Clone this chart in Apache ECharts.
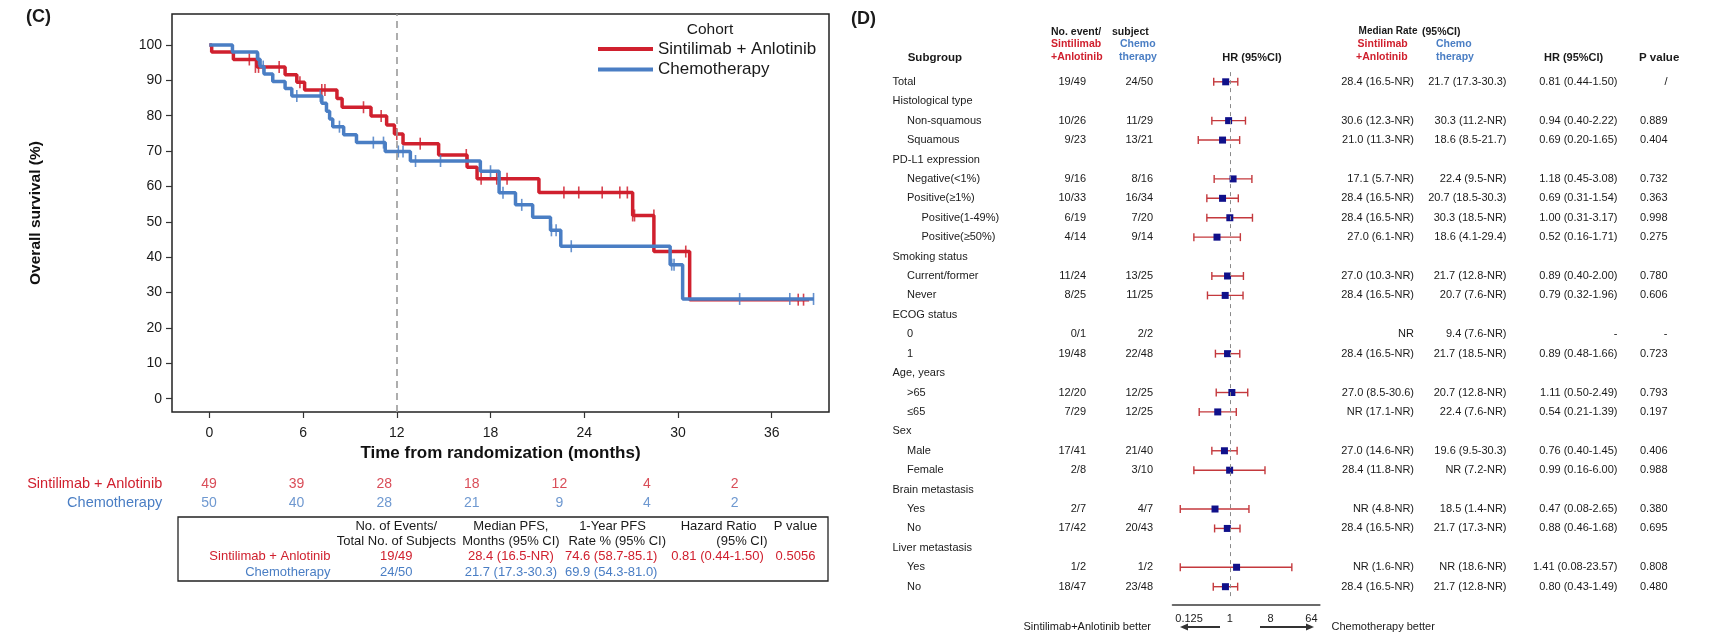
<!DOCTYPE html>
<html><head><meta charset="utf-8">
<script src="https://cdn.jsdelivr.net/npm/echarts@6/dist/echarts.min.js"></script>
<style>html,body{margin:0;padding:0;background:#fff}#c{width:1710px;height:643px}</style>
</head><body><div id="c"></div>
<script>
// ---------------- DATA ----------------
const kmTicks = [0, 6, 12, 18, 24, 30, 36];
const survTicks = [0, 10, 20, 30, 40, 50, 60, 70, 80, 90, 100];
const armSA = 'Sintilimab + Anlotinib';
const armCh = 'Chemotherapy';
// Kaplan-Meier steps [month, survival %]
const stepsSA = [[0,100],[0.15,98.0],[1.54,95.9],[3.05,93.8],[4.85,91.6],[5.6,89.5],[6.1,87.3],[8.17,84.9],[8.5,82.4],[10.35,79.9],[11.35,77.4],[11.85,74.8],[12.4,72.1],[14.68,68.9],[16.5,65.4],[17.14,62.2],[21.1,58.3],[27.1,51.8],[28.46,41.6],[30.75,28.0],[38.4,28.0]];
const censSA = [[2.56,95.9],[2.95,93.8],[3.15,93.8],[4.47,93.8],[5.8,89.5],[7.2,87.3],[7.4,87.3],[9.87,82.4],[11.0,79.9],[12.0,74.8],[13.5,72.1],[16.45,68.9],[17.4,62.2],[18.4,62.2],[19.06,62.2],[22.7,58.3],[23.65,58.3],[25.15,58.3],[26.28,58.3],[26.76,58.3],[27.1,51.8],[27.22,51.8],[28.46,51.8],[30.5,41.6],[37.7,28.0],[38.04,28.0]];
const stepsCh = [[0,100],[1.48,98.0],[3.08,96.0],[3.25,93.9],[3.5,91.8],[4.06,89.7],[4.85,87.7],[5.28,85.6],[7.2,83.5],[7.5,81.3],[7.7,79.1],[7.9,76.9],[8.6,74.6],[9.42,72.4],[11.26,69.9],[12.87,67.2],[17.35,64.3],[18.55,58.2],[19.6,54.8],[20.7,51.3],[21.84,47.6],[22.5,43.1],[29.5,37.9],[30.3,28.2],[38.7,28.2]];
const censCh = [[3.15,96.0],[3.45,93.9],[5.6,85.6],[7.1,85.6],[8.33,76.9],[10.5,72.4],[11.15,72.4],[12.1,69.9],[12.4,69.9],[13.2,67.2],[14.8,67.2],[18.0,64.3],[18.8,58.2],[20.0,54.8],[21.9,47.6],[22.2,47.6],[23.17,43.1],[29.6,37.9],[29.75,37.9],[33.95,28.2],[37.16,28.2],[38.68,28.2]];
// number at risk
const riskTimes = ['0','6','12','18','24','30','36'];
const riskSA = [49, 39, 28, 18, 12, 4, 2];
const riskCh = [50, 40, 28, 21, 9, 4, 2];
// summary table
const tabHead1 = ['No. of Events/', 'Median PFS,', '1-Year PFS', 'Hazard Ratio', 'P value'];
const tabHead2 = ['Total No. of Subjects', 'Months (95% CI)', 'Rate % (95% CI)', '(95% CI)', ''];
const tabSA = ['19/49', '28.4 (16.5-NR)', '74.6 (58.7-85.1)', '0.81 (0.44-1.50)', '0.5056'];
const tabCh = ['24/50', '21.7 (17.3-30.3)', '69.9 (54.3-81.0)', '', ''];
// forest plot
const subgroups = ['Total','Histological type','Non-squamous','Squamous','PD-L1 expression','Negative(<1%)','Positive(≥1%)','Positive(1-49%)','Positive(≥50%)','Smoking status','Current/former','Never','ECOG status','0','1','Age, years','>65','≤65','Sex','Male','Female','Brain metastasis','Yes','No','Liver metastasis','Yes','No'];
const levels = [0,0,1,1,0,1,1,2,2,0,1,1,0,1,1,0,1,1,0,1,1,0,1,1,0,1,1];
const eventsSA = ['19/49','','10/26','9/23','','9/16','10/33','6/19','4/14','','11/24','8/25','','0/1','19/48','','12/20','7/29','','17/41','2/8','','2/7','17/42','','1/2','18/47'];
const eventsCh = ['24/50','','11/29','13/21','','8/16','16/34','7/20','9/14','','13/25','11/25','','2/2','22/48','','12/25','12/25','','21/40','3/10','','4/7','20/43','','1/2','23/48'];
const medianSA = ['28.4 (16.5-NR)','','30.6 (12.3-NR)','21.0 (11.3-NR)','','17.1 (5.7-NR)','28.4 (16.5-NR)','28.4 (16.5-NR)','27.0 (6.1-NR)','','27.0 (10.3-NR)','28.4 (16.5-NR)','','NR','28.4 (16.5-NR)','','27.0 (8.5-30.6)','NR (17.1-NR)','','27.0 (14.6-NR)','28.4 (11.8-NR)','','NR (4.8-NR)','28.4 (16.5-NR)','','NR (1.6-NR)','28.4 (16.5-NR)'];
const medianCh = ['21.7 (17.3-30.3)','','30.3 (11.2-NR)','18.6 (8.5-21.7)','','22.4 (9.5-NR)','20.7 (18.5-30.3)','30.3 (18.5-NR)','18.6 (4.1-29.4)','','21.7 (12.8-NR)','20.7 (7.6-NR)','','9.4 (7.6-NR)','21.7 (18.5-NR)','','20.7 (12.8-NR)','22.4 (7.6-NR)','','19.6 (9.5-30.3)','NR (7.2-NR)','','18.5 (1.4-NR)','21.7 (17.3-NR)','','NR (18.6-NR)','21.7 (12.8-NR)'];
const hr = [0.81,null,0.94,0.69,null,1.18,0.69,1.00,0.52,null,0.89,0.79,null,null,0.89,null,1.11,0.54,null,0.76,0.99,null,0.47,0.88,null,1.41,0.80];
const hrLo = [0.44,null,0.40,0.20,null,0.45,0.31,0.31,0.16,null,0.40,0.32,null,null,0.48,null,0.50,0.21,null,0.40,0.16,null,0.08,0.46,null,0.08,0.43];
const hrHi = [1.50,null,2.22,1.65,null,3.08,1.54,3.17,1.71,null,2.00,1.96,null,null,1.66,null,2.49,1.39,null,1.45,6.00,null,2.65,1.68,null,23.57,1.49];
const hrText = ['0.81 (0.44-1.50)','','0.94 (0.40-2.22)','0.69 (0.20-1.65)','','1.18 (0.45-3.08)','0.69 (0.31-1.54)','1.00 (0.31-3.17)','0.52 (0.16-1.71)','','0.89 (0.40-2.00)','0.79 (0.32-1.96)','','-','0.89 (0.48-1.66)','','1.11 (0.50-2.49)','0.54 (0.21-1.39)','','0.76 (0.40-1.45)','0.99 (0.16-6.00)','','0.47 (0.08-2.65)','0.88 (0.46-1.68)','','1.41 (0.08-23.57)','0.80 (0.43-1.49)'];
const pvals = ['/','','0.889','0.404','','0.732','0.363','0.998','0.275','','0.780','0.606','','-','0.723','','0.793','0.197','','0.406','0.988','','0.380','0.695','','0.808','0.480'];
const forestTicks = [0.125, 1, 8, 64];

// ---------------- STYLE ----------------
const RED = '#d0202e', BLUE = '#4a7ec4', NAVY = '#10108a', CI = '#c4393d';
const FONT = 'Arial, "Liberation Sans", sans-serif';

const chart = echarts.init(document.getElementById('c'));

function forestItem(params, api) {
  const i = params.dataIndex;
  const y = api.coord([1, i])[1];
  const ch = [];
  const txt = (s, x, align, color) => { if (s) ch.push({type:'text', x: x, y: y, style:{text:s, fill: color || '#1a1a1a', font:'11px ' + FONT, align: align, verticalAlign:'middle'}}); };
  txt(subgroups[i], 892.5 + levels[i] * 14.5, 'left');
  txt(eventsSA[i], 1086, 'right');
  txt(eventsCh[i], 1153, 'right');
  txt(medianSA[i], 1414, 'right');
  txt(medianCh[i], 1506.5, 'right');
  txt(hrText[i], 1617.5, 'right');
  txt(pvals[i], 1667.5, 'right');
  if (hr[i] != null) {
    const a = api.coord([hrLo[i], i])[0], b = api.coord([hrHi[i], i])[0], c = api.coord([hr[i], i])[0];
    const st = {stroke: CI, lineWidth: 1.4};
    ch.push({type:'line', shape:{x1:a, y1:y, x2:b, y2:y}, style: st});
    ch.push({type:'line', shape:{x1:a, y1:y-4, x2:a, y2:y+4}, style: st});
    ch.push({type:'line', shape:{x1:b, y1:y-4, x2:b, y2:y+4}, style: st});
    ch.push({type:'rect', shape:{x:c-3.5, y:y-3.5, width:7, height:7}, style:{fill: NAVY}});
  }
  return {type:'group', children: ch};
}

// graphic texts
const G = [];
function gt(s, x, y, opt) {
  opt = opt || {};
  G.push({type:'text', x:x, y:y, silent:true,
    style:{text:s, fill: opt.color || '#1a1a1a', font: (opt.bold ? 'bold ' : '') + (opt.size || 11) + 'px ' + FONT,
      align: opt.align || 'left', verticalAlign:'middle'}});
}
gt('(C)', 26, 17, {bold:true, size:18});
gt('(D)', 851, 19, {bold:true, size:18});
gt('Cohort', 710, 30, {size:15.5, align:'center'});
// forest headers
const HB = {bold:true, size:10.5};
const hb = (o) => Object.assign({}, HB, o);
gt('No. event/', 1051, 31.7, HB); gt('subject', 1112, 31.7, HB);
gt('Sintilimab', 1051, 44.5, hb({color:RED})); gt('+Anlotinib', 1051, 57.5, hb({color:RED}));
gt('Chemo', 1120, 44.5, hb({color:BLUE})); gt('therapy', 1119, 57.5, hb({color:BLUE}));
gt('Subgroup', 907.7, 58.3, hb({size:11.5}));
gt('HR (95%CI)', 1252, 58.3, hb({align:'center', size:11}));
gt('Median Rate', 1358.6, 31.7, hb({size:10})); gt('(95%CI)', 1422, 31.7, HB);
gt('Sintilimab', 1357.6, 44.5, hb({color:RED})); gt('+Anlotinib', 1356, 57.5, hb({color:RED}));
gt('Chemo', 1436, 44.5, hb({color:BLUE})); gt('therapy', 1436, 57.5, hb({color:BLUE}));
gt('HR (95%CI)', 1544, 58.3, hb({size:11}));
gt('P value', 1639, 58.3, hb({size:11.5}));
gt('Sintilimab+Anlotinib better', 1151, 627, {align:'right'});
gt('Chemotherapy better', 1331.5, 627, {});
// arrows
G.push({type:'line', silent:true, shape:{x1:1220, y1:627, x2:1186, y2:627}, style:{stroke:'#333', lineWidth:2}});
G.push({type:'polygon', silent:true, shape:{points:[[1180,627],[1188,623.5],[1188,630.5]]}, style:{fill:'#333'}});
G.push({type:'line', silent:true, shape:{x1:1260, y1:627, x2:1308, y2:627}, style:{stroke:'#333', lineWidth:2}});
G.push({type:'polygon', silent:true, shape:{points:[[1314,627],[1306,623.5],[1306,630.5]]}, style:{fill:'#333'}});
// summary table
G.push({type:'rect', silent:true, shape:{x:178, y:517, width:650, height:64}, style:{fill:'none', stroke:'#222', lineWidth:1.3}});
const TB = {size:13, align:'center'};
const h1x = [396.3, 510.9, 612.5, 718.6, 795.5];
tabHead1.forEach((s, k) => gt(s, h1x[k], 526, TB));
const h2x = [396.3, 510.9, 617.2, 742, 795.5];
tabHead2.forEach((s, k) => { if (s) gt(s, h2x[k], 541, TB); });
gt(armSA, 330.4, 556, {size:13, align:'right', color:RED});
gt(armCh, 330.4, 572.5, {size:13, align:'right', color:BLUE});
const valX = [396.3, 510.9, 611.2, 717.5, 795.5];
tabSA.forEach((s, k) => { if (s) gt(s, valX[k], 556, {size:13, align:'center', color:RED}); });
tabCh.forEach((s, k) => { if (s) gt(s, valX[k], 572.5, {size:13, align:'center', color:BLUE}); });

const option = {
  animation: false,
  backgroundColor: '#fff',
  textStyle: {fontFamily: FONT},
  graphic: G,
  legend: {
    data: [{name: armSA, icon:'rect'}, {name: armCh, icon:'rect'}],
    left: 598, top: 40.5, padding: 0, orient: 'vertical', itemWidth: 55, itemHeight: 4, itemGap: 3.5,
    textStyle: {fontSize: 17, color:'#1a1a1a', lineHeight: 17, fontFamily: FONT}, selectedMode: false
  },
  grid: [
    {left:172, top:14, width:657, height:398, show:true, borderColor:'#222', borderWidth:1.5, backgroundColor:'#fff'},
    {left:165.2, top:474.5, width:613.2, height:38},
    {left:1172.7, top:72.1, width:146.9, height:524.3}
  ],
  xAxis: [
    {type:'value', gridIndex:0, min:-2.39, max:39.67, splitLine:{show:false},
      axisLine:{show:false, onZero:false},
      axisTick:{show:true, customValues:kmTicks, length:6, lineStyle:{color:'#333', width:1.2}},
      axisLabel:{customValues:kmTicks, fontSize:14, color:'#1a1a1a', margin:14},
      name:'Time from randomization (months)', nameLocation:'middle', nameGap:31,
      nameTextStyle:{fontSize:17, fontWeight:'bold', color:'#111'}},
    {type:'category', gridIndex:1, data:riskTimes, show:false},
    {type:'log', logBase:2, gridIndex:2, min:Math.pow(2,-4.2), max:Math.pow(2,6.6), offset:8,
      splitLine:{show:false}, axisLine:{show:true, onZero:false, lineStyle:{color:'#6b6b6b', width:2}},
      axisTick:{show:false},
      axisLabel:{customValues:forestTicks, fontSize:11, color:'#1a1a1a', margin:9,
        formatter: v => (Math.abs(v-0.125) < 1e-6 ? '0.125' : String(Math.round(v)))}}
  ],
  yAxis: [
    {type:'value', gridIndex:0, min:-3.76, max:108.76, splitLine:{show:false},
      axisLine:{show:false, onZero:false},
      axisTick:{show:true, customValues:survTicks, length:6, lineStyle:{color:'#333', width:1.2}},
      axisLabel:{customValues:survTicks, fontSize:14, color:'#1a1a1a', margin:10},
      name:'Overall survival (%)', nameLocation:'middle', nameGap:128, nameRotate:90,
      nameTextStyle:{fontSize:15.5, fontWeight:'bold', color:'#111'}},
    {type:'category', gridIndex:1, data:[armSA, armCh], inverse:true,
      axisLine:{show:false}, axisTick:{show:false},
      axisLabel:{margin:3, interval:0, fontSize:14.5, formatter:(v, i) => (i === 0 ? '{r|' + v + '}' : '{b|' + v + '}'),
        rich:{r:{color:RED, fontSize:14.5}, b:{color:BLUE, fontSize:14.5}}}},
    {type:'category', gridIndex:2, data:subgroups.map((_, i) => String(i)), inverse:true, show:false}
  ],
  series: [
    {name:armSA, type:'line', step:'end', xAxisIndex:0, yAxisIndex:0, data:stepsSA, showSymbol:false, symbol:'none',
      color:RED, lineStyle:{color:RED, width:3.5}, z:3,
      markLine:{silent:true, symbol:'none', label:{show:false}, lineStyle:{color:'#9a9a9a', type:[7,5], width:1.6},
        data:[{xAxis:12}]}},
    {name:armSA, type:'scatter', xAxisIndex:0, yAxisIndex:0, data:censSA, symbol:'rect', symbolSize:[1.6,12],
      itemStyle:{color:RED, opacity:0.85}, z:3},
    {name:armCh, type:'line', step:'end', xAxisIndex:0, yAxisIndex:0, data:stepsCh, showSymbol:false, symbol:'none',
      color:BLUE, lineStyle:{color:BLUE, width:3.5}, z:4},
    {name:armCh, type:'scatter', xAxisIndex:0, yAxisIndex:0, data:censCh, symbol:'rect', symbolSize:[1.6,12],
      itemStyle:{color:BLUE, opacity:0.85}, z:4},
    {type:'scatter', xAxisIndex:1, yAxisIndex:1, symbolSize:2, itemStyle:{color:'rgba(0,0,0,0)'},
      data: riskSA.map((v, i) => [i, 0, v]),
      label:{show:true, position:'inside', formatter:p => String(p.value[2]), color:RED, fontSize:14}},
    {type:'scatter', xAxisIndex:1, yAxisIndex:1, symbolSize:2, itemStyle:{color:'rgba(0,0,0,0)'},
      data: riskCh.map((v, i) => [i, 1, v]),
      label:{show:true, position:'inside', formatter:p => String(p.value[2]), color:BLUE, fontSize:14}},
    {type:'scatter', xAxisIndex:2, yAxisIndex:2, data:[],
      markLine:{silent:true, symbol:'none', label:{show:false}, lineStyle:{color:'#8a8a8a', type:[4,4], width:1},
        data:[{xAxis:1}]}},
    {type:'custom', xAxisIndex:2, yAxisIndex:2, renderItem: forestItem, clip:false,
      data: subgroups.map((_, i) => [hr[i] == null ? 1 : hr[i], i]), encode:{x:0, y:1}}
  ]
};
chart.setOption(option);
</script></body></html>
